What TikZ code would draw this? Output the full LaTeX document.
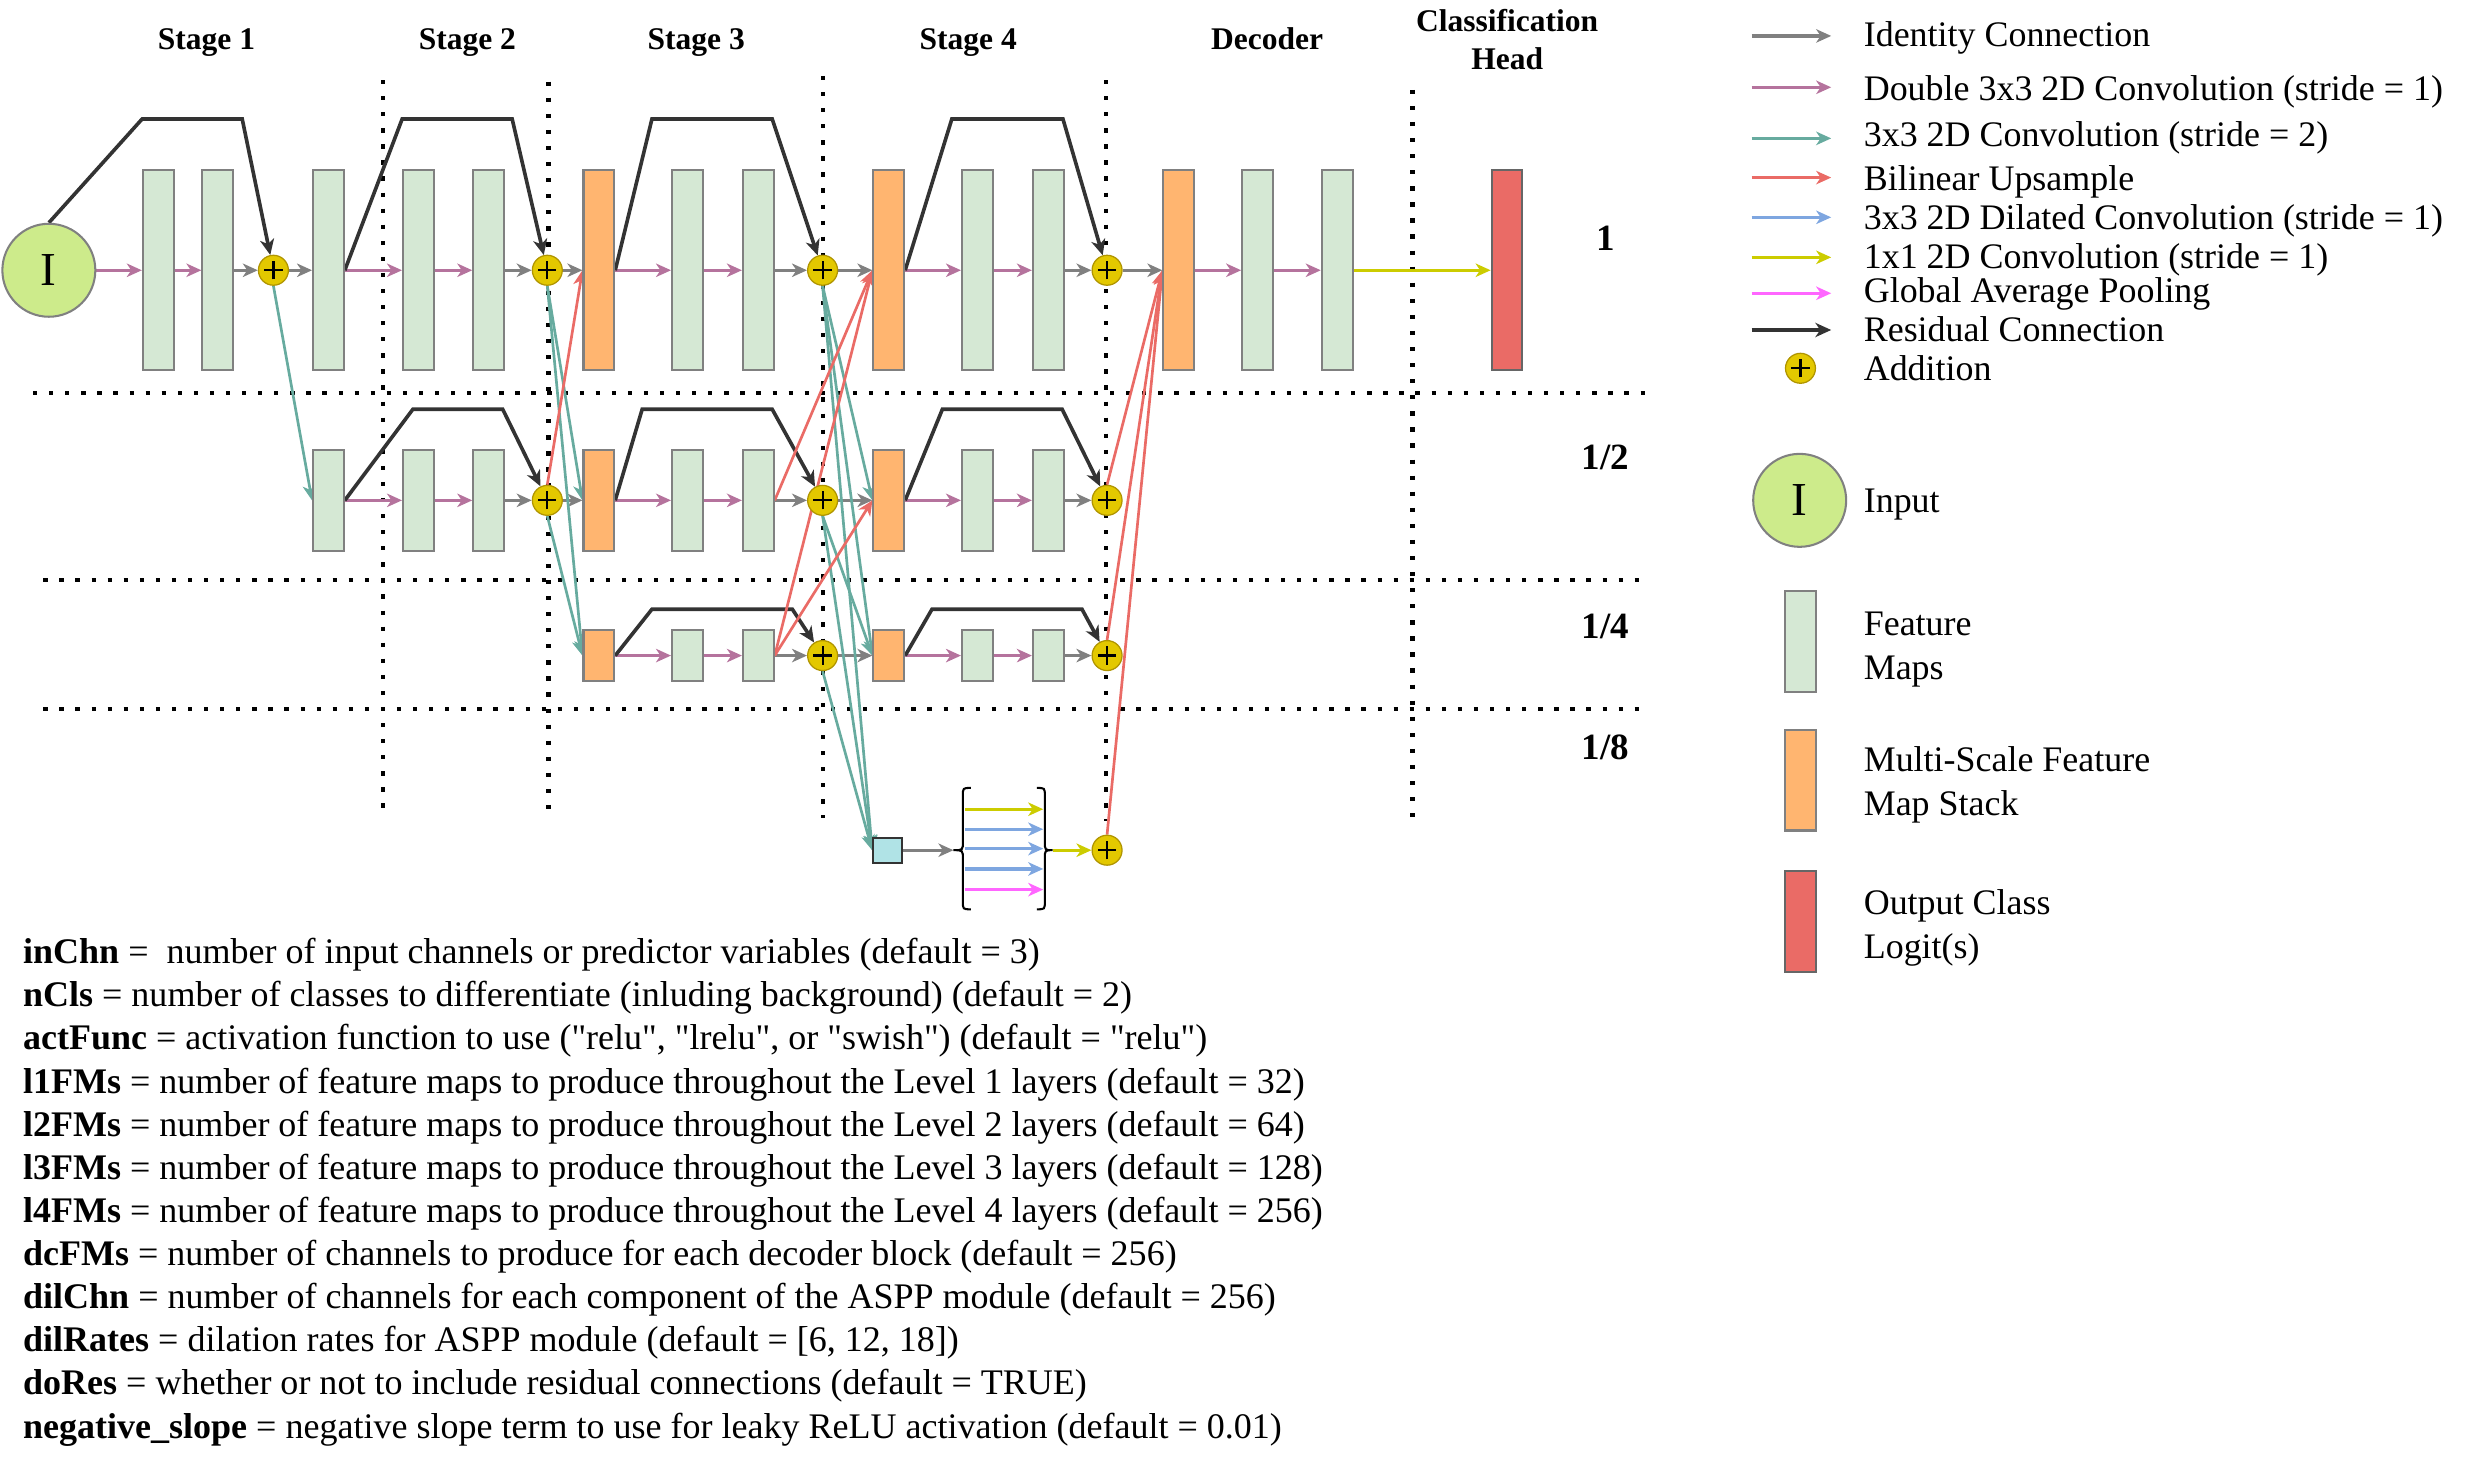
\documentclass[tikz,border=0pt]{standalone}
\usepackage{fontspec}
\setmainfont{Liberation Serif}[Ligatures=TeXOff]
\usetikzlibrary{arrows.meta}
\definecolor{cgray}{HTML}{808080}
\definecolor{cdgray}{HTML}{666666}
\definecolor{cmauve}{HTML}{B5739D}
\definecolor{cteal}{HTML}{67AB9F}
\definecolor{cred}{HTML}{EA6B66}
\definecolor{cblue}{HTML}{7EA6E0}
\definecolor{cyel}{HTML}{CCCC00}
\definecolor{cpink}{HTML}{FF66FF}
\definecolor{cdark}{HTML}{333333}
\definecolor{fgreen}{HTML}{D5E8D4}
\definecolor{forange}{HTML}{FFB570}
\definecolor{fred}{HTML}{EA6B66}
\definecolor{fcyan}{HTML}{B0E3E6}
\definecolor{cinput}{HTML}{CDEB8B}
\definecolor{caddf}{HTML}{E3C800}
\definecolor{caddb}{HTML}{B09500}
\pgfdeclarelayer{dotl}
\pgfdeclarelayer{edgel}
\pgfsetlayers{dotl,edgel,main}
\begin{document}
\begin{tikzpicture}[x=1pt,y=-1pt,
  every node/.style={inner sep=0pt},
  tipa/.style={-{Stealth[length=9.5pt,width=8.5pt,inset=2.8pt]}},
  ident/.style={tipa,cgray,line width=2pt},
  dconv/.style={tipa,cmauve,line width=2pt},
  sconv/.style={tipa,cteal,line width=1.7pt},
  upsm/.style={tipa,cred,line width=1.7pt},
  dilc/.style={tipa,cblue,line width=2pt},
  pconv/.style={tipa,cyel,line width=2pt},
  gapl/.style={tipa,cpink,line width=2pt},
  resid/.style={-{Stealth[length=10pt,width=9pt,inset=3pt]},cdark,line width=2.3pt,line join=miter},
  dotln/.style={black,line width=2.7pt,dash pattern=on 2.7pt off 7.5pt},
  fm/.style={rectangle,draw=cgray,fill=fgreen,line width=1.3pt,minimum width=19.5pt},
  om/.style={fm,fill=forange},
  lm/.style={fm,fill=fred,draw=cdgray},
  hA/.style={minimum height=127pt},
  hB/.style={minimum height=64pt},
  hC/.style={minimum height=32pt},
  addn/.style={circle,draw=caddb,fill=caddf,line width=0.8pt,minimum size=19pt,
     path picture={\draw[black,line width=1.4pt]
       ([xshift=-5.8pt]path picture bounding box.center) -- ([xshift=5.8pt]path picture bounding box.center)
       ([yshift=-5.8pt]path picture bounding box.center) -- ([yshift=5.8pt]path picture bounding box.center);}},
  inp/.style={circle,draw=cgray,fill=cinput,line width=1.3pt,minimum size=59pt,font=\fontsize{30}{30}\selectfont},
  hdr/.style={anchor=base,font=\fontsize{20}{24}\selectfont\bfseries},
  rowl/.style={anchor=base,font=\fontsize{23.5}{28}\selectfont\bfseries},
  lgt/.style={anchor=base west,font=\fontsize{22.8}{27}\selectfont},
  prm/.style={anchor=base west,font=\fontsize{22.85}{27}\selectfont},
]
\useasboundingbox (0,0) rectangle (1568,933);

% ---------------- headers
\node[hdr] (h1) at (131,31.7) {Stage 1};
\node[hdr] (h2) at (296.6,31.7) {Stage 2};
\node[hdr] (h3) at (441.8,31.7) {Stage 3};
\node[hdr] (h4) at (614.4,31.7) {Stage 4};
\node[hdr] (h5) at (804,31.7) {Decoder};
\node[hdr] (h6) at (956.4,20.1) {Classification};
\node[hdr] (h7) at (956.4,44.4) {Head};
\node[rowl] (l1) at (1018.8,159) {1};
\node[rowl] (l2) at (1018.8,297.8) {1/2};
\node[rowl] (l3) at (1018.8,405) {1/4};
\node[rowl] (l4) at (1018.8,482.2) {1/8};

% ---------------- row 1
\node[inp] (I) at (31,171.5) {I};
\node[fm,hA] (b11) at (100.4,171.5) {};
\node[fm,hA] (b12) at (138.2,171.5) {};
\node[addn] (a11) at (173.5,171.5) {};
\node[fm,hA] (b13) at (208.4,171.5) {};
\node[fm,hA] (b14) at (265.5,171.5) {};
\node[fm,hA] (b15) at (310.1,171.5) {};
\node[addn] (a12) at (347.3,171.5) {};
\node[om,hA] (o13) at (380,171.5) {};
\node[fm,hA] (b16) at (436.2,171.5) {};
\node[fm,hA] (b17) at (481.2,171.5) {};
\node[addn] (a13) at (522,171.5) {};
\node[om,hA] (o14) at (564,171.5) {};
\node[fm,hA] (b18) at (620.2,171.5) {};
\node[fm,hA] (b19) at (665.2,171.5) {};
\node[addn] (a14) at (702.5,171.5) {};
\node[om,hA] (od) at (748,171.5) {};
\node[fm,hA] (bd1) at (798,171.5) {};
\node[fm,hA] (bd2) at (848.5,171.5) {};
\node[lm,hA] (out) at (956.3,171.5) {};

% ---------------- row 2
\node[fm,hB] (b21) at (208.4,317.5) {};
\node[fm,hB] (b22) at (265.5,317.5) {};
\node[fm,hB] (b23) at (310.1,317.5) {};
\node[addn] (a22) at (347.3,317.5) {};
\node[om,hB] (o23) at (380,317.5) {};
\node[fm,hB] (b24) at (436.2,317.5) {};
\node[fm,hB] (b25) at (481.2,317.5) {};
\node[addn] (a23) at (522,317.5) {};
\node[om,hB] (o24) at (564,317.5) {};
\node[fm,hB] (b26) at (620.2,317.5) {};
\node[fm,hB] (b27) at (665.2,317.5) {};
\node[addn] (a24) at (702.5,317.5) {};

% ---------------- row 3
\node[om,hC] (o33) at (380,416) {};
\node[fm,hC] (b34) at (436.2,416) {};
\node[fm,hC] (b35) at (481.2,416) {};
\node[addn] (a33) at (522,416) {};
\node[om,hC] (o34) at (564,416) {};
\node[fm,hC] (b36) at (620.2,416) {};
\node[fm,hC] (b37) at (665.2,416) {};
\node[addn] (a34) at (702.5,416) {};

% ---------------- row 4 (ASPP)
\node[rectangle,draw=cdark,fill=fcyan,line width=1.2pt,minimum width=18.5pt,minimum height=16pt] (aspp) at (563.3,539.5) {};
\node[addn] (a44) at (702.5,539.5) {};
\coordinate (lbt) at (605,539.5);
\coordinate (rbt) at (668,539.5);
\draw[black,line width=1.3pt] (616,500) .. controls (611,500) .. (611,505) -- (611,534)
   .. controls (611,539.5) .. (605,539.5) .. controls (611,539.5) .. (611,545) -- (611,572)
   .. controls (611,577) .. (616,577);
\draw[black,line width=1.3pt] (658,500) .. controls (663,500) .. (663,505) -- (663,534)
   .. controls (663,539.5) .. (668,539.5) .. controls (663,539.5) .. (663,545) -- (663,572)
   .. controls (663,577) .. (658,577);
\draw[pconv] (612.5,513.5) -- (662,513.5);
\draw[dilc] (612.5,526.2) -- (662,526.2);
\draw[dilc] (612.5,538.5) -- (662,538.5);
\draw[dilc] (612.5,551.4) -- (662,551.4);
\draw[gapl] (612.5,564.5) -- (662,564.5);

% ---------------- dotted grid
\begin{pgfonlayer}{dotl}
\draw[dotln] (21,249.6) -- (1047,249.6);
\draw[dotln] (27.5,368) -- (1044.5,368);
\draw[dotln] (27.5,450) -- (1044.5,450);
\draw[dotln] (242.8,50.8) -- (242.8,519);
\draw[dotln] (348,51.8) -- (348,519);
\draw[dotln] (522,48.2) -- (522,519);
\draw[dotln] (702,50.8) -- (702,521);
\draw[dotln] (896.3,57) -- (896.3,524.5);
\end{pgfonlayer}

% ---------------- connectors
\begin{pgfonlayer}{edgel}
% double conv
\foreach \u/\v in {I/b11,b11/b12,b13/b14,b14/b15,o13/b16,b16/b17,o14/b18,b18/b19,od/bd1,bd1/bd2,
                   b21/b22,b22/b23,o23/b24,b24/b25,o24/b26,b26/b27,
                   o33/b34,b34/b35,o34/b36,b36/b37}
  \draw[dconv] (\u) -- (\v);
% identity
\foreach \u/\v in {b12/a11,a11/b13,b15/a12,a12/o13,b17/a13,a13/o14,b19/a14,a14/od,
                   b23/a22,a22/o23,b25/a23,a23/o24,b27/a24,
                   b35/a33,a33/o34,b37/a34}
  \draw[ident] (\u) -- (\v);
\draw[ident] (aspp) -- (lbt);
% 1x1 conv
\draw[pconv] (bd2) -- (out);
\draw[pconv] (rbt) -- (a44);
% residual
\draw[resid] (I.north) -- (90.2,75.5) -- (153.7,75.5) -- (a11);
\draw[resid] (b13.east) -- (255.2,75.5) -- (325,75.5) -- (a12);
\draw[resid] (o13.east) -- (413.7,75.5) -- (490,75.5) -- (a13);
\draw[resid] (o14.east) -- (604,75.5) -- (674.5,75.5) -- (a14);
\draw[resid] (b21.east) -- (262,259.7) -- (319,259.7) -- (a22);
\draw[resid] (o23.east) -- (407.5,259.7) -- (490,259.7) -- (a23);
\draw[resid] (o24.east) -- (598,259.7) -- (674,259.7) -- (a24);
\draw[resid] (o33.east) -- (413.7,386.6) -- (502.8,386.6) -- (a33);
\draw[resid] (o34.east) -- (591.4,386.6) -- (686.6,386.6) -- (a34);
% stride-2 conv
\foreach \u/\v in {a11/b21,a12/o23,a12/o33,a22/o33,a13/o24,a13/o34,a13/aspp,a23/o34,a23/aspp,a33/aspp}
  \draw[sconv] (\u.south) -- (\v.west);
% bilinear upsample
\draw[upsm] (a22.north) -- (o13.west);
\draw[upsm] (b25.east) -- (o14.west);
\draw[upsm] (b35.east) -- (o14.west);
\draw[upsm] (b35.east) -- (o24.west);
\draw[upsm] (a24.north) -- (od.west);
\draw[upsm] (a34.north) -- (od.west);
\draw[upsm] (a44.north) -- (od.west);
\end{pgfonlayer}

% ---------------- legend
\coordinate (g1a) at (1111.5,22.8);  \coordinate (g1b) at (1162,22.8);
\coordinate (g2a) at (1111.5,55.4);  \coordinate (g2b) at (1162,55.4);
\coordinate (g3a) at (1111.5,87.8);  \coordinate (g3b) at (1162,87.8);
\coordinate (g4a) at (1111.5,112.7); \coordinate (g4b) at (1162,112.7);
\coordinate (g5a) at (1111.5,137.9); \coordinate (g5b) at (1162,137.9);
\coordinate (g6a) at (1111.5,163.3); \coordinate (g6b) at (1162,163.3);
\coordinate (g7a) at (1111.5,186.1); \coordinate (g7b) at (1162,186.1);
\coordinate (g8a) at (1111.5,209.4); \coordinate (g8b) at (1162,209.4);
\draw[ident] (g1a) -- (g1b);
\draw[dconv] (g2a) -- (g2b);
\draw[sconv] (g3a) -- (g3b);
\draw[upsm] (g4a) -- (g4b);
\draw[dilc] (g5a) -- (g5b);
\draw[pconv] (g6a) -- (g6b);
\draw[gapl] (g7a) -- (g7b);
\draw[resid] (g8a) -- (g8b);
\node[addn] (gadd) at (1142.5,233.7) {};
\node[lgt] (lt1) at (1182.5,29.6) {Identity Connection};
\node[lgt] (lt2) at (1182.5,63.5) {Double 3x3 2D Convolution (stride = 1)};
\node[lgt] (lt3) at (1182.5,93) {3x3 2D Convolution (stride = 2)};
\node[lgt] (lt4) at (1182.5,120.6) {Bilinear Upsample};
\node[lgt] (lt5) at (1182.5,145.5) {3x3 2D Dilated Convolution (stride = 1)};
\node[lgt] (lt6) at (1182.5,170.5) {1x1 2D Convolution (stride = 1)};
\node[lgt] (lt7) at (1182.5,192) {Global Average Pooling};
\node[lgt] (lt8) at (1182.5,216.8) {Residual Connection};
\node[lgt] (lt9) at (1182.5,241.5) {Addition};

\node[inp] (gI) at (1142,317.5) {I};
\node[lgt] (lt10) at (1182.5,325) {Input};
\node[fm,hB] (gfm) at (1142.5,407) {};
\node[lgt] (lt11) at (1182.5,403) {Feature};
\node[lgt] (lt12) at (1182.5,431) {Maps};
\node[om,hB] (gom) at (1142.5,495) {};
\node[lgt] (lt13) at (1182.5,489.5) {Multi-Scale Feature};
\node[lgt] (lt14) at (1182.5,517.5) {Map Stack};
\node[lm,hB] (glm) at (1142.5,584.5) {};
\node[lgt] (lt15) at (1182.5,580) {Output Class};
\node[lgt] (lt16) at (1182.5,608) {Logit(s)};

% ---------------- parameter text
\node[prm] (p1) at (14.5,611.5) {\textbf{inChn} =\ \ number of input channels or predictor variables (default = 3)};
\node[prm] (p2) at (14.5,638.9) {\textbf{nCls} = number of classes to differentiate (inluding background) (default = 2)};
\node[prm] (p3) at (14.5,666.2) {\textbf{actFunc} = activation function to use ("relu", "lrelu", or "swish") (default = "relu")};
\node[prm] (p4) at (14.5,693.6) {\textbf{l1FMs} = number of feature maps to produce throughout the Level 1 layers (default = 32)};
\node[prm] (p5) at (14.5,720.9) {\textbf{l2FMs} = number of feature maps to produce throughout the Level 2 layers (default = 64)};
\node[prm] (p6) at (14.5,748.3) {\textbf{l3FMs} = number of feature maps to produce throughout the Level 3 layers (default = 128)};
\node[prm] (p7) at (14.5,775.7) {\textbf{l4FMs} = number of feature maps to produce throughout the Level 4 layers (default = 256)};
\node[prm] (p8) at (14.5,803.0) {\textbf{dcFMs} = number of channels to produce for each decoder block (default = 256)};
\node[prm] (p9) at (14.5,830.4) {\textbf{dilChn} = number of channels for each component of the ASPP module (default = 256)};
\node[prm] (p10) at (14.5,857.7) {\textbf{dilRates} = dilation rates for ASPP module (default = [6, 12, 18])};
\node[prm] (p11) at (14.5,885.1) {\textbf{doRes} = whether or not to include residual connections (default = TRUE)};
\node[prm] (p12) at (14.5,912.5) {\textbf{negative\_slope} = negative slope term to use for leaky ReLU activation (default = 0.01)};
\end{tikzpicture}
\end{document}
